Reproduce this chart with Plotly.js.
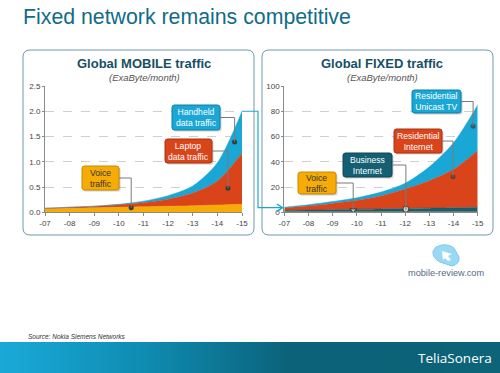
<!DOCTYPE html>
<html><head><meta charset="utf-8">
<script src="https://cdn.plot.ly/plotly-3.0.1.min.js"></script>
<style>html,body{margin:0;padding:0;background:#fff}#c{width:500px;height:373px}</style>
</head><body><div id="c"></div>
<script>
// ---- data ----
const years = [7, 8, 9, 10, 11, 12, 13, 14, 15];
const yearLabels = ['-07', '-08', '-09', '-10', '-11', '-12', '-13', '-14', '-15'];

const mobileVoice    = [0.07, 0.08, 0.09, 0.10, 0.11, 0.12, 0.13, 0.145, 0.16];
const mobileLaptop   = [0.01, 0.02, 0.03, 0.05, 0.08, 0.14, 0.25, 0.475, 1.01];
const mobileHandheld = [0.00, 0.00, 0.00, 0.01, 0.03, 0.07, 0.14, 0.36, 0.83];

const fixedVoice       = [0.5, 0.5, 0.5, 0.5, 0.5, 0.5, 0.5, 0.5, 0.5];
const fixedBusiness    = [1.1, 1.3, 1.6, 1.9, 2.2, 2.5, 2.8, 3.1, 3.5];
const fixedResInternet = [1.9, 3.2, 4.9, 7.1, 10.3, 15.5, 21.7, 30.4, 44.7];
const fixedUnicastTV   = [0.5, 1.0, 1.5, 2.0, 3.0, 4.5, 11.0, 21.0, 36.3];

const mobileCalloutLabels = ['Handheld<br>data traffic', 'Laptop<br>data traffic', 'Voice<br>traffic'];
const mobileCalloutX = [14.7, 14.43, 10.5];
const mobileCalloutY = [1.39, 0.475, 0.09];

const fixedCalloutLabels = ['Residential<br>Unicast TV', 'Residential<br>Internet', 'Business<br>Internet', 'Voice<br>traffic'];
const fixedCalloutX = [14.81, 13.98, 12.03, 9.85];
const fixedCalloutY = [68.2, 28.1, 2.4, 1.8];

// ---- geometry helpers (pixels -> paper) ----
const W = 500, H = 373;
const X = p => p / W;
const Y = p => 1 - p / H;
const M = {x0: 45, x1: 242, y0: 86, y1: 212.3, xr: [7, 15], yr: [0, 2.5]};
const F = {x0: 284.3, x1: 477.7, y0: 86, y1: 212.3, xr: [7, 15], yr: [0, 100]};
const px = (P, v) => P.x0 + (v - P.xr[0]) / (P.xr[1] - P.xr[0]) * (P.x1 - P.x0);
const py = (P, v) => P.y1 - (v - P.yr[0]) / (P.yr[1] - P.yr[0]) * (P.y1 - P.y0);

function rr(x0, y0, x1, y1, r) {
  return `M${X(x0 + r)},${Y(y0)} L${X(x1 - r)},${Y(y0)} Q${X(x1)},${Y(y0)} ${X(x1)},${Y(y0 + r)} ` +
    `L${X(x1)},${Y(y1 - r)} Q${X(x1)},${Y(y1)} ${X(x1 - r)},${Y(y1)} L${X(x0 + r)},${Y(y1)} ` +
    `Q${X(x0)},${Y(y1)} ${X(x0)},${Y(y1 - r)} L${X(x0)},${Y(y0 + r)} Q${X(x0)},${Y(y0)} ${X(x0 + r)},${Y(y0)} Z`;
}

const FONT = 'Liberation Sans, Arial, sans-serif';
const shapes = [];
const annotations = [];

// Panel boxes
shapes.push({type: 'path', xref: 'paper', yref: 'paper', path: rr(23, 50, 254, 235, 7), line: {color: '#6f9bab', width: 1}, fillcolor: 'rgba(0,0,0,0)', layer: 'below'});
shapes.push({type: 'path', xref: 'paper', yref: 'paper', path: rr(262, 50, 493, 235, 7), line: {color: '#6f9bab', width: 1}, fillcolor: 'rgba(0,0,0,0)', layer: 'below'});

// Bottom gradient band
const stops = [[0, [26, 170, 216]], [150, [14, 138, 176]], [290, [11, 98, 121]], [500, [13, 99, 120]]];
function colAt(x) {
  for (let i = 0; i < stops.length - 1; i++) {
    const [a, ca] = stops[i], [b, cb] = stops[i + 1];
    if (x >= a && x <= b) {
      const t = (x - a) / (b - a);
      return `rgb(${ca.map((c, k) => Math.round(c + (cb[k] - c) * t)).join(',')})`;
    }
  }
  return 'rgb(13,99,120)';
}
for (let x = 0; x < 500; x += 5) {
  shapes.push({type: 'rect', xref: 'paper', yref: 'paper', x0: X(x), x1: X(x + 5.5), y0: Y(373), y1: Y(342), line: {width: 0}, fillcolor: colAt(x + 2.5), layer: 'below'});
}

// Callout boxes
function callout(P, text, dx, dy, box, fill, border, tcolor) {
  const [bx0, by0, bx1, by1] = box;
  shapes.push({type: 'path', xref: 'paper', yref: 'paper', path: rr(bx0 + 1.5, by0 + 1.5, bx1 + 1.5, by1 + 1.5, 2.5), line: {width: 0}, fillcolor: 'rgba(0,0,0,0.18)'});
  shapes.push({type: 'path', xref: 'paper', yref: 'paper', path: rr(bx0, by0, bx1, by1, 2.5), line: {color: border, width: 1}, fillcolor: fill});
  const ym = (by0 + by1) / 2;
  const dX = px(P, dx), dY = py(P, dy);
  shapes.push({type: 'path', xref: 'paper', yref: 'paper', path: `M${X(bx1)},${Y(ym)} L${X(dX)},${Y(ym)} L${X(dX)},${Y(dY)}`, line: {color: '#7a7a7a', width: 1}, fillcolor: 'rgba(0,0,0,0)'});
  annotations.push({xref: 'paper', yref: 'paper', x: X((bx0 + bx1) / 2), y: Y(ym), text: text, showarrow: false,
    xanchor: 'center', yanchor: 'middle', align: 'center', font: {family: FONT, size: 8.6, color: tcolor}});
}
callout(M, mobileCalloutLabels[0], mobileCalloutX[0], mobileCalloutY[0], [172, 105, 220, 130], '#1aa7d5', '#0f7ea5', '#ffffff');
callout(M, mobileCalloutLabels[1], mobileCalloutX[1], mobileCalloutY[1], [165, 139, 212, 163], '#d9441b', '#a83210', '#ffffff');
callout(M, mobileCalloutLabels[2], mobileCalloutX[2], mobileCalloutY[2], [82, 166, 119, 190], '#f6ac05', '#c68800', '#333333');
callout(F, fixedCalloutLabels[0], fixedCalloutX[0], fixedCalloutY[0], [412, 90, 461, 113], '#1aa7d5', '#0f7ea5', '#ffffff');
callout(F, fixedCalloutLabels[1], fixedCalloutX[1], fixedCalloutY[1], [394, 129, 442, 153], '#d9441b', '#a83210', '#ffffff');
callout(F, fixedCalloutLabels[2], fixedCalloutX[2], fixedCalloutY[2], [343, 153, 392, 177], '#155f73', '#0c4556', '#ffffff');
callout(F, fixedCalloutLabels[3], fixedCalloutX[3], fixedCalloutY[3], [298, 172, 336, 194], '#f6ac05', '#c68800', '#333333');

// Connector arrow from mobile total to fixed chart
const mTotEnd = mobileVoice[8] + mobileLaptop[8] + mobileHandheld[8];
const aY0 = py(M, mTotEnd);
shapes.push({type: 'path', xref: 'paper', yref: 'paper', path: `M${X(242)},${Y(aY0)} L${X(258)},${Y(aY0)} L${X(258)},${Y(207.7)} L${X(282)},${Y(207.7)}`, line: {color: '#1aa7d5', width: 1.2}, fillcolor: 'rgba(0,0,0,0)'});
shapes.push({type: 'path', xref: 'paper', yref: 'paper', path: `M${X(277)},${Y(204)} L${X(282.5)},${Y(207.7)} L${X(277)},${Y(211.4)}`, line: {color: '#1aa7d5', width: 1.5}, fillcolor: 'rgba(0,0,0,0)'});

// mobile-review logo
shapes.push({type: 'path', xref: 'paper', yref: 'paper', path: `M${X(436)},${Y(247)} Q${X(446)},${Y(242)} ${X(454)},${Y(248)} L${X(459)},${Y(257)} Q${X(460)},${Y(264)} ${X(452)},${Y(266)} L${X(440)},${Y(262)} Q${X(432)},${Y(258)} ${X(433)},${Y(251)} Z`, line: {color: '#7ecbee', width: 1}, fillcolor: '#9ad8f3'});
shapes.push({type: 'path', xref: 'paper', yref: 'paper', path: `M${X(442)},${Y(251)} L${X(452)},${Y(254)} L${X(448)},${Y(256)} L${X(451)},${Y(260)} L${X(448)},${Y(261)} L${X(445)},${Y(258)} L${X(443)},${Y(260)} Z`, line: {width: 0}, fillcolor: '#ffffff'});

// Texts
annotations.push({xref: 'paper', yref: 'paper', x: X(21), y: Y(17), xanchor: 'left', yanchor: 'middle', showarrow: false,
  text: 'Fixed network remains competitive', font: {family: FONT, size: 21.3, color: '#106c88'}});
annotations.push({xref: 'paper', yref: 'paper', x: X(144), y: Y(63.5), xanchor: 'center', yanchor: 'middle', showarrow: false,
  text: '<b>Global MOBILE traffic</b>', font: {family: FONT, size: 13, color: '#174f66'}});
annotations.push({xref: 'paper', yref: 'paper', x: X(144), y: Y(77.5), xanchor: 'center', yanchor: 'middle', showarrow: false,
  text: '<i>(ExaByte/month)</i>', font: {family: FONT, size: 9.5, color: '#555555'}});
annotations.push({xref: 'paper', yref: 'paper', x: X(382), y: Y(63.5), xanchor: 'center', yanchor: 'middle', showarrow: false,
  text: '<b>Global FIXED traffic</b>', font: {family: FONT, size: 13, color: '#174f66'}});
annotations.push({xref: 'paper', yref: 'paper', x: X(382), y: Y(77.5), xanchor: 'center', yanchor: 'middle', showarrow: false,
  text: '<i>(ExaByte/month)</i>', font: {family: FONT, size: 9.5, color: '#555555'}});
annotations.push({xref: 'paper', yref: 'paper', x: X(446), y: Y(272.5), xanchor: 'center', yanchor: 'middle', showarrow: false,
  text: 'mobile-review.com', font: {family: FONT, size: 9.2, color: '#566a82'}});
annotations.push({xref: 'paper', yref: 'paper', x: X(26), y: Y(336.5), xanchor: 'left', yanchor: 'middle', showarrow: false,
  text: '<i>Source: Nokia Siemens Networks</i>', font: {family: FONT, size: 6.5, color: '#333333'}});
annotations.push({xref: 'paper', yref: 'paper', x: X(494), y: Y(357.5), xanchor: 'right', yanchor: 'middle', showarrow: false,
  text: 'TeliaSonera', font: {family: 'Open Sans, Noto Sans, sans-serif', size: 13.5, color: '#ffffff'}});

// ---- traces ----
function area(x, y, color, xa, ya, grp, name) {
  return {type: 'scatter', mode: 'lines', x: x, y: y, stackgroup: grp, name: name,
    line: {color: color, width: 0.5, shape: 'spline', smoothing: 0.8}, fillcolor: color,
    xaxis: xa, yaxis: ya, hoverinfo: 'skip'};
}
const traces = [
  area(years, mobileVoice, '#f6ac05', 'x', 'y', 'm', 'Voice traffic'),
  area(years, mobileLaptop, '#d9441b', 'x', 'y', 'm', 'Laptop data traffic'),
  area(years, mobileHandheld, '#1aa7d5', 'x', 'y', 'm', 'Handheld data traffic'),
  area(years, fixedVoice, '#9a7a45', 'x2', 'y2', 'f', 'Voice traffic'),
  area(years, fixedBusiness, '#155f73', 'x2', 'y2', 'f', 'Business Internet'),
  area(years, fixedResInternet, '#d9441b', 'x2', 'y2', 'f', 'Residential Internet'),
  area(years, fixedUnicastTV, '#1aa7d5', 'x2', 'y2', 'f', 'Residential Unicast TV'),
  {type: 'scatter', mode: 'markers', x: mobileCalloutX, y: mobileCalloutY, xaxis: 'x', yaxis: 'y', hoverinfo: 'skip',
    marker: {color: '#3a3a3a', size: 5, line: {width: 0}}},
  {type: 'scatter', mode: 'markers', x: fixedCalloutX, y: fixedCalloutY, xaxis: 'x2', yaxis: 'y2', hoverinfo: 'skip',
    marker: {color: ['#3a3a3a', '#3a3a3a', '#ffffff', '#ffffff'], size: [5, 5, 6, 6],
      symbol: ['circle', 'circle', 'circle', 'triangle-down'], line: {color: '#3a3a3a', width: [0, 0, 1.2, 1.2]}}}
];

function xax(P, anchor) {
  return {domain: [X(P.x0), X(P.x1)], range: P.xr, anchor: anchor, tickvals: years, ticktext: yearLabels,
    showgrid: false, zeroline: false, showline: true, linecolor: '#8a8a8a', linewidth: 1,
    ticks: 'outside', ticklen: 3, tickcolor: '#8a8a8a', tickfont: {family: FONT, size: 8, color: '#444'}, fixedrange: true};
}
function yax(P, anchor, dtick, fmt) {
  return {domain: [Y(P.y1), Y(P.y0)], range: P.yr, anchor: anchor, dtick: dtick, tick0: 0, tickformat: fmt,
    showgrid: true, gridcolor: '#cfcfcf', griddash: 'dash', gridwidth: 1, zeroline: false, showline: true,
    linecolor: '#8a8a8a', linewidth: 1, ticks: 'outside', ticklen: 2, tickcolor: '#8a8a8a',
    tickfont: {family: FONT, size: 8, color: '#444'}, fixedrange: true};
}

const layout = {
  width: W, height: H, margin: {l: 0, r: 0, t: 0, b: 0}, showlegend: false,
  paper_bgcolor: '#ffffff', plot_bgcolor: 'rgba(0,0,0,0)',
  xaxis: xax(M, 'y'), yaxis: yax(M, 'x', 0.5, '.1f'),
  xaxis2: xax(F, 'y2'), yaxis2: yax(F, 'x2', 20, 'd'),
  shapes: shapes, annotations: annotations
};
Plotly.newPlot('c', traces, layout, {displayModeBar: false, staticPlot: true});
</script></body></html>
